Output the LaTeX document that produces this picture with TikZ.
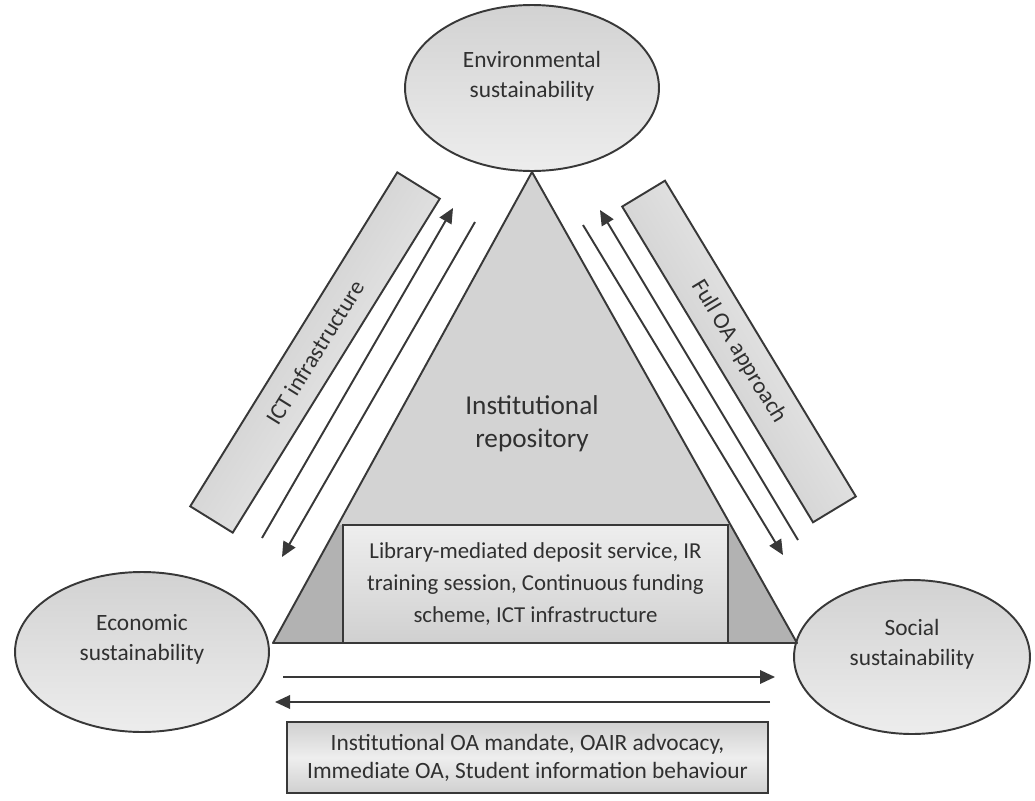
\documentclass[tikz,border=0pt]{standalone}
\usepackage{fontspec}
\setmainfont{Carlito}
\usetikzlibrary{arrows.meta,shapes.geometric}
\definecolor{txt}{HTML}{303030}
\definecolor{edge}{HTML}{383838}
\definecolor{ellTop}{HTML}{D2D2D2}
\definecolor{ellBot}{HTML}{EDEDED}
\definecolor{triFill}{HTML}{D3D3D3}
\definecolor{trapFill}{HTML}{B2B2B2}
\definecolor{boxTop}{HTML}{EEEEEE}
\definecolor{boxBot}{HTML}{D0D0D0}
\definecolor{barDark}{HTML}{C2C2C2}
\definecolor{barLight}{HTML}{F4F4F4}
\begin{document}
\begin{tikzpicture}[x=0.02cm,y=-0.02cm,
  ell/.style={ellipse,draw=edge,line width=1.1pt,top color=ellTop,bottom color=ellBot,inner sep=0pt},
  etext/.style={align=center,text=txt,font=\fontsize{13.3}{17}\selectfont,inner sep=0pt},
  infobox/.style={rectangle,draw=edge,line width=1.2pt,top color=boxTop,bottom color=boxBot,align=center,text=txt,font=\fontsize{13}{18}\selectfont,inner sep=0pt},
  bar/.style={rectangle,draw=edge,line width=1.1pt,minimum width=7.8cm,minimum height=1.0cm,text=txt,font=\fontsize{13.3}{16}\selectfont,inner sep=0pt},
  conn/.style={draw=edge,line width=1.1pt,-{Triangle[length=0.3cm,width=0.27cm]}}
]
\useasboundingbox (0,0) rectangle (1035,801);

% ellipses
\node[ell,minimum width=5.08cm,minimum height=3.32cm] (env) at (532,88) {};
\node[ell,minimum width=5.08cm,minimum height=3.2cm] (eco) at (142,652) {};
\node[ell,minimum width=4.72cm,minimum height=3.08cm] (soc) at (912,657) {};
\node[etext] (envt) at (532,76) {Environmental\\sustainability};
\node[etext] (ecot) at (142,639) {Economic\\sustainability};
\node[etext] (soct) at (912,644) {Social\\sustainability};

% triangle
\coordinate (apex) at (532,172);
\coordinate (tl) at (273,643);
\coordinate (tr) at (797,643);
\fill[triFill] (apex) -- (tl) -- (tr) -- cycle;
\fill[trapFill] (338,525) -- (731,525) -- (tr) -- (tl) -- cycle;
\draw[edge,line width=1.1pt,line join=round] (apex) -- (tl) -- (tr) -- cycle;

\node[align=center,text=txt,font=\fontsize{15.5}{18.7}\selectfont,inner sep=0pt] (ir) at (532,424) {Institutional\\repository};

% middle box
\node[infobox,minimum width=7.7cm,minimum height=2.36cm] (mid) at (535.5,584) {Library-mediated deposit service, IR\\training session, Continuous funding\\scheme, ICT infrastructure};

% bars
\node[bar,minimum width=7.86cm,rotate=58.2,shading=axis,bottom color=barDark,top color=barLight,shading angle=-122] (ict) at (315,352.5) {ICT infrastructure};
\node[bar,minimum width=7.38cm,rotate=-58.85,shading=axis,bottom color=barDark,top color=barLight,shading angle=-59] (foa) at (739,351.5) {Full OA approach};

% left arrows
\coordinate (l1s) at (262,538); \coordinate (l1e) at (453,208);
\coordinate (l2s) at (475,222); \coordinate (l2e) at (282,557);
\draw[conn] (l1s) -- (l1e);
\draw[conn] (l2s) -- (l2e);
% right arrows
\coordinate (rAs) at (583,225); \coordinate (rAe) at (783,555);
\coordinate (rBs) at (798,540); \coordinate (rBe) at (600,210);
\draw[conn] (rAs) -- (rAe);
\draw[conn] (rBs) -- (rBe);
% horizontal arrows
\coordinate (h1s) at (283,677); \coordinate (h1e) at (775,677);
\coordinate (h2s) at (770,702); \coordinate (h2e) at (275,702);
\draw[conn] (h1s) -- (h1e);
\draw[conn] (h2s) -- (h2e);

% bottom box
\node[infobox,font=\fontsize{13.3}{16}\selectfont,minimum width=9.62cm,minimum height=1.42cm,top color=boxBot,bottom color=boxBot,middle color=boxTop] (bot) at (527.5,757.5) {Institutional OA mandate, OAIR advocacy,\\Immediate OA, Student information behaviour};
\end{tikzpicture}
\end{document}
